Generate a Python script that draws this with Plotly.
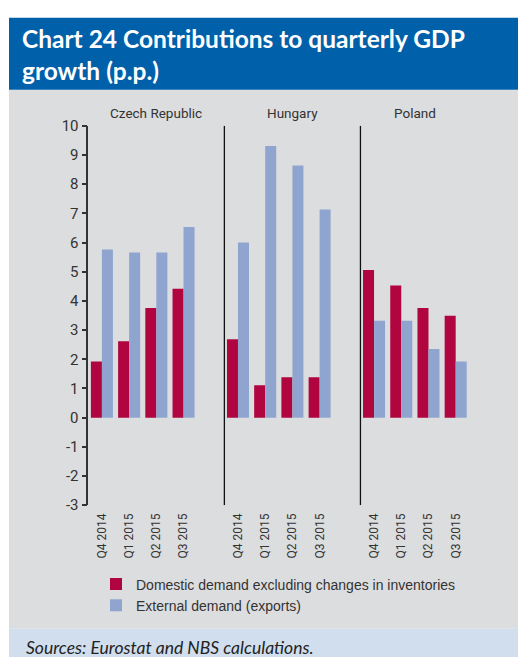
import plotly.graph_objects as go

# ---- data ----
countries = ["Czech Republic", "Hungary", "Poland"]
quarters = ["Q4 2014", "Q1 2015", "Q2 2015", "Q3 2015"]
domestic = {
    "Czech Republic": [1.92, 2.62, 3.76, 4.42],
    "Hungary": [2.69, 1.11, 1.38, 1.38],
    "Poland": [5.06, 4.53, 3.76, 3.49],
}
external = {
    "Czech Republic": [5.76, 5.66, 5.66, 6.53],
    "Hungary": [6.0, 9.31, 8.64, 7.13],
    "Poland": [3.32, 3.32, 2.35, 1.92],
}
series_names = ["Domestic demand excluding changes in inventories", "External demand (exports)"]
title_text = "Chart 24 Contributions to quarterly GDP<br>growth (p.p.)"
source_text = "Sources: Eurostat and NBS calculations."
y_ticks = list(range(-3, 11))
y_ticktext = [str(v) for v in y_ticks]  # plain hyphen minus as in the original

# ---- layout helpers ----
W, H = 518, 666
def px(x):
    return x / W
def py(y):
    return 1 - y / H

RED = "#B0053F"
BLUE = "#8FA5D0"
AX = "#333333"
NARROW = "Liberation Sans Narrow, Arial Narrow, Roboto, sans-serif"
slot = len(quarters) + 1

xs, d_vals, e_vals, labels = [], [], [], []
for gi, c in enumerate(countries):
    for qi, q in enumerate(quarters):
        xs.append(gi * slot + qi)
        d_vals.append(domestic[c][qi])
        e_vals.append(external[c][qi])
        labels.append(q)

xmin = -0.5
xmax = xs[-1] + 0.5

fig = go.Figure()
fig.add_trace(go.Bar(x=xs, y=d_vals, name=series_names[0], marker=dict(color=RED, line=dict(width=0))))
fig.add_trace(go.Bar(x=xs, y=e_vals, name=series_names[1], marker=dict(color=BLUE, line=dict(width=0))))

shapes = [
    dict(type="rect", xref="paper", yref="paper", x0=px(9), x1=1, y0=py(637), y1=py(83),
         fillcolor="#DCDDDF", line=dict(width=0), layer="below"),
    dict(type="rect", xref="paper", yref="paper", x0=px(9), x1=1, y0=py(83), y1=py(9),
         fillcolor="#0061AA", line=dict(width=0), layer="below"),
    dict(type="rect", xref="paper", yref="paper", x0=px(9), x1=1, y0=0, y1=py(637),
         fillcolor="#D0DEEE", line=dict(width=0), layer="below"),
]
annotations = []
for gi, c in enumerate(countries):
    left = gi * slot - 0.5
    right = min(gi * slot + slot - 0.5, xmax)
    if gi > 0:
        shapes.append(dict(type="line", xref="x", yref="y", x0=left, x1=left, y0=y_ticks[0], y1=y_ticks[-1],
                           line=dict(color="#111111", width=1.3)))
    annotations.append(dict(x=(left + right) / 2, y=py(107), xref="x", yref="paper", text=c,
                            showarrow=False, font=dict(family=NARROW, size=13.5, color=AX),
                            xanchor="center", yanchor="middle"))

annotations.append(dict(x=px(20), y=py(47), xref="paper", yref="paper", text=title_text, align="left",
                        showarrow=False, xanchor="left", yanchor="middle",
                        font=dict(family="Lato, Noto Sans, sans-serif", size=24.5, color="white", weight="bold")))
annotations.append(dict(x=px(24), y=py(656), xref="paper", yref="paper", text="<i>" + source_text + "</i>",
                        showarrow=False, xanchor="left", yanchor="middle",
                        font=dict(family="Lato, Noto Sans, sans-serif", size=17.5, color="#222222")))

fig.update_layout(
    width=W, height=H,
    margin=dict(l=0, r=0, t=0, b=0),
    paper_bgcolor="white", plot_bgcolor="rgba(0,0,0,0)",
    barmode="group", bargap=0.19, bargroupgap=0,
    shapes=shapes, annotations=annotations,
    showlegend=True,
    legend=dict(x=px(96), y=py(575), xanchor="left", yanchor="top", bgcolor="rgba(0,0,0,0)",
                font=dict(family="Liberation Sans, Arial, sans-serif", size=14, color=AX),
                tracegroupgap=0, itemclick=False),
    xaxis=dict(domain=[px(88.3), px(469.3)], range=[xmin, xmax], tickmode="array",
               tickvals=xs, ticktext=labels, tickangle=-90, ticks="", showline=False,
               showgrid=False, zeroline=False, tickfont=dict(family=NARROW, size=12, color=AX),
               ticklabelstandoff=5),
    xaxis2=dict(domain=[px(88.3), px(469.3)], range=[xmin, xmax], overlaying="x",
                anchor="free", position=py(420), side="bottom", showline=True, linecolor=AX,
                linewidth=1.5, tickmode="linear", tick0=-0.5, dtick=1, ticks="outside", ticklen=5,
                tickcolor=AX, tickwidth=1.5, showticklabels=False, showgrid=False, zeroline=False),
    yaxis=dict(domain=[py(510), py(120)], range=[y_ticks[0], y_ticks[-1]], tickmode="array",
               tickvals=y_ticks, ticktext=y_ticktext, ticks="outside", ticklen=5, tickcolor=AX,
               tickwidth=1.5, showline=True, linecolor=AX, linewidth=1.5, showgrid=False,
               zeroline=False, tickfont=dict(family=NARROW, size=15, color=AX)),
)

fig.write_html("out.html")
